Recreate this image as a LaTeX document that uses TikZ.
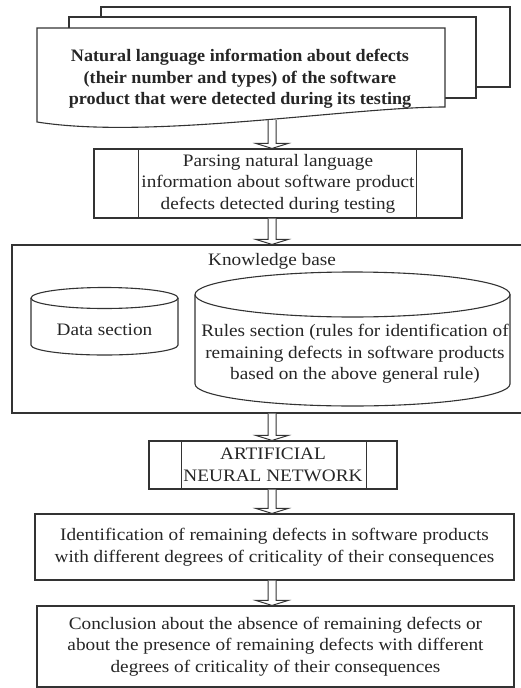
\documentclass[tikz,border=0pt]{standalone}
\usepackage{fontspec}
\setmainfont{Liberation Serif}[FakeStretch=1.1]
\newfontfamily\headfont{Liberation Serif}[FakeStretch=1.035]
\usetikzlibrary{calc}

\newcommand\bodyfont{\fontsize{17.5}{21.5}\selectfont}

\tikzset{
  ln/.style={draw=black!80, line width=1.1pt},
  box/.style={ln, fill=white, inner sep=0pt, align=center, text=black!85, font=\bodyfont},
  lbl/.style={align=center, text=black!85, inner sep=0pt, font=\bodyfont},
  fat/.style={draw=black!80, line width=1pt, fill=white, line join=miter},
}

% hollow block arrow running down the common spine from #1 to #2
\newcommand\fatarrow[2]{%
  \draw[fat] let \p1=(spine |- #1), \p2=(spine |- #2) in
    (\x1-4pt,\y1) -- (\x1-4pt,\y2+5pt) -- (\x1-16pt,\y2+5pt) -- (\x1,\y2)
    -- (\x1+16pt,\y2+5pt) -- (\x1+4pt,\y2+5pt) -- (\x1+4pt,\y1);}

\begin{document}
\begin{tikzpicture}[x=1pt, y=-1pt]
\fill[white] (0,0) rectangle (520,688);
\useasboundingbox (0,0) rectangle (520,688);

\coordinate (spine) at (272,0);

% stack of documents
\draw[ln, fill=white] (101,7) rectangle (510,87);
\draw[ln, fill=white] (69,17) rectangle (476,98);
\draw[ln, fill=white] (37,28) -- (445,28) -- (445,107)
  .. controls (350,107) and (150,140) .. (37,122) -- cycle;
\node[lbl, font=\headfont\bodyfont\bfseries] (doc) at (240,79)
  {Natural language information about defects\\(their number and types) of the software\\product that were detected during its testing};
\coordinate (docb) at (272,120);

% parsing (predefined process)
\node[box, minimum width=368, minimum height=69] (parse) at (278,183.5)
  {Parsing natural language\\information about software product\\defects detected during testing};
\draw[ln] ([xshift=45]parse.north west) -- ([xshift=45]parse.south west);
\draw[ln] ([xshift=-46]parse.north east) -- ([xshift=-46]parse.south east);

% knowledge base
\node[box, minimum width=513, minimum height=168] (kb) at (268.5,329) {};
\node[lbl] (kbtitle) at (272,261) {Knowledge base};

\draw[ln, fill=white] (31,298) -- (31,345)
  arc[start angle=180, end angle=0, x radius=73.5, y radius=10] -- (178,298);
\draw[ln] (104.5,298) ellipse [x radius=73.5, y radius=10.5];
\node[lbl] (data) at (104.5,330) {Data section};

\draw[ln, fill=white] (195,294.5) -- (195,384)
  arc[start angle=180, end angle=0, x radius=157.5, y radius=22] -- (510,294.5);
\draw[ln] (352.5,294.5) ellipse [x radius=157.5, y radius=22.5];
\node[lbl] (rules) at (355,354)
  {Rules section (rules for identification of\\remaining defects in software products\\based on the above general rule)};

% neural network (predefined process)
\node[box, minimum width=248, minimum height=48] (ann) at (273,465)
  {ARTIFICIAL\\NEURAL NETWORK};
\draw[ln] ([xshift=33]ann.north west) -- ([xshift=33]ann.south west);
\draw[ln] ([xshift=-31]ann.north east) -- ([xshift=-31]ann.south east);

% results
\node[box, minimum width=479, minimum height=66] (ident) at (274.5,547)
  {Identification of remaining defects in software products\\with different degrees of criticality of their consequences};
\node[box, minimum width=477, minimum height=81] (concl) at (275.5,646.5)
  {Conclusion about the absence of remaining defects or\\about the presence of remaining defects with different\\degrees of criticality of their consequences};

% flow
\fatarrow{docb}{parse.north}
\fatarrow{parse.south}{kb.north}
\fatarrow{kb.south}{ann.north}
\fatarrow{ann.south}{ident.north}
\fatarrow{ident.south}{concl.north}
\end{tikzpicture}
\end{document}
